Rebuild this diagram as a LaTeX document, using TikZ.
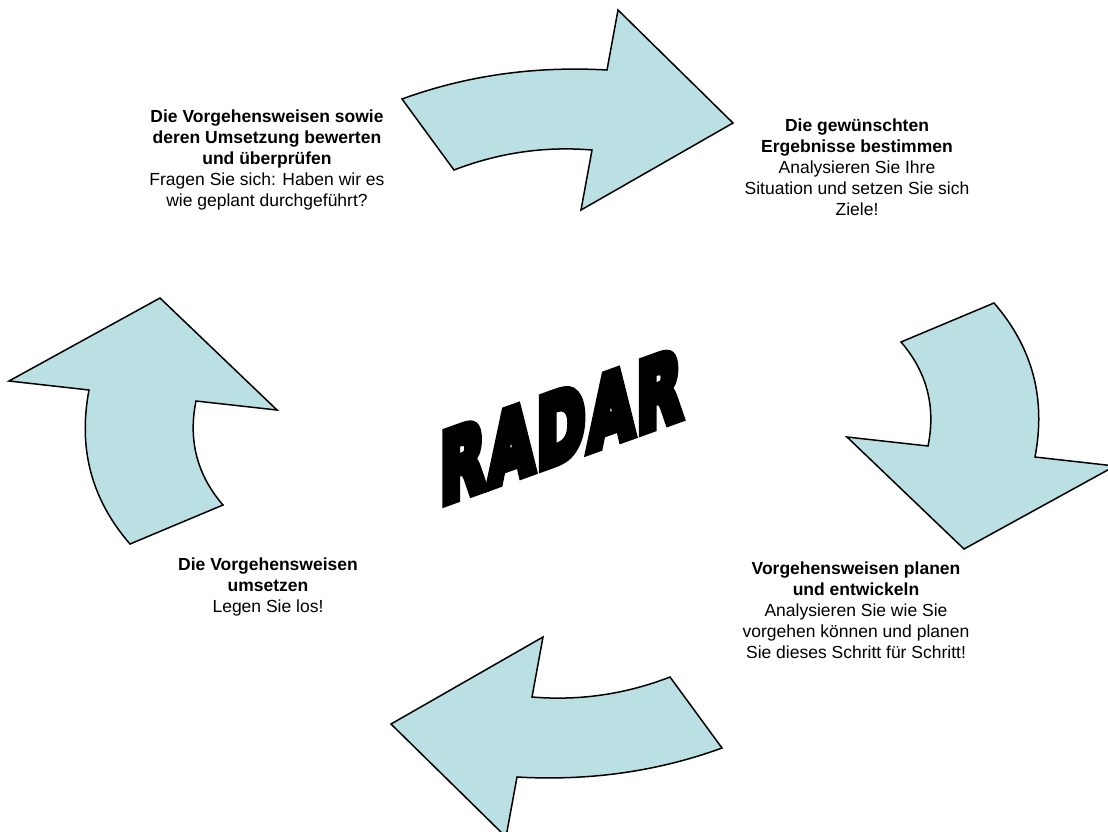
\documentclass[tikz,border=0pt]{standalone}
\usepackage{fontspec}
\setmainfont{Liberation Sans}
\newfontfamily\radarfont{DejaVu Sans}[BoldFeatures={FakeBold=12}]
\definecolor{arrowfill}{HTML}{BBE0E3}
\begin{document}
\begin{tikzpicture}[x=1pt, y=-1pt,
  blockarrow/.style={draw=black, line width=1.5pt, fill=arrowfill, line join=miter},
  stage/.style={align=center, font=\fontsize{17.5}{21}\selectfont}]
\useasboundingbox (0,0) rectangle (1108,831);
\clip (0,0) rectangle (1108,831);
% top and right arrows
\draw[blockarrow] (402,99) .. controls (468,75) and (536,66) .. (607,70) -- (618,10) -- (733,123) -- (581,210) -- (592,150) .. controls (544,146) and (498,153) .. (454,170) -- cycle;
\draw[blockarrow] (901,342) -- (994,303) .. controls (1033,348) and (1046,399) .. (1035,457) -- (1115,466) -- (964,549) -- (847,437) -- (928,446) .. controls (936,407) and (927,372) .. (901,342) -- cycle;
% bottom and left arrows: same shapes turned half round
\begin{scope}[rotate around={180:(562,423.5)}]
\draw[blockarrow] (402,99) .. controls (468,75) and (536,66) .. (607,70) -- (618,10) -- (733,123) -- (581,210) -- (592,150) .. controls (544,146) and (498,153) .. (454,170) -- cycle;
\draw[blockarrow] (901,342) -- (994,303) .. controls (1033,348) and (1046,399) .. (1035,457) -- (1115,466) -- (964,549) -- (847,437) -- (928,446) .. controls (936,407) and (927,372) .. (901,342) -- cycle;
\end{scope}
% texts
\node[inner sep=0pt, yslant=0.36, xscale=0.62, transform shape, font=\radarfont\bfseries\fontsize{93}{93}\selectfont] (radar) at (561,426) {R\kern6pt A\kern6pt D\kern6pt A\kern6pt R};
\node[stage] (assess) at (267,160) {\textbf{Die Vorgehensweisen sowie}\\\textbf{deren Umsetzung bewerten}\\\textbf{und überprüfen}\\Fragen Sie sich: Haben wir es\\wie geplant durchgeführt?};
\node[stage] (goals) at (857,167) {\textbf{Die gewünschten}\\\textbf{Ergebnisse bestimmen}\\Analysieren Sie Ihre\\Situation und setzen Sie sich\\Ziele!};
\node[stage] (plan) at (856,610) {\textbf{Vorgehensweisen planen}\\\textbf{und entwickeln}\\Analysieren Sie wie Sie\\vorgehen können und planen\\Sie dieses Schritt für Schritt!};
\node[stage] (deploy) at (268,587) {\textbf{Die Vorgehensweisen}\\\textbf{umsetzen}\\Legen Sie los!};
\end{tikzpicture}
\end{document}
